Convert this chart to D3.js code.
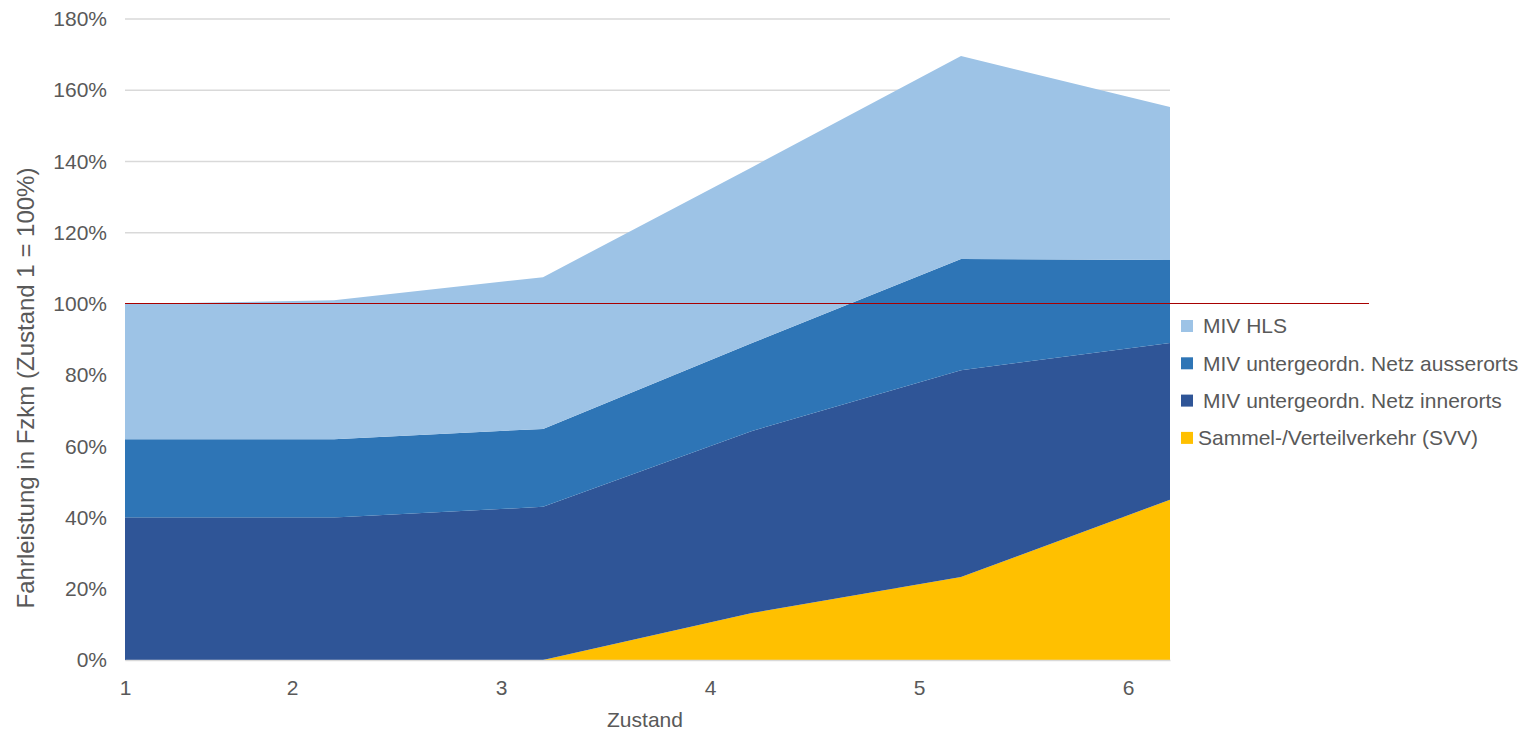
<!DOCTYPE html>
<html lang="de">
<head>
<meta charset="UTF-8">
<title>Fahrleistung</title>
<script src="https://d3js.org/d3.v7.min.js"></script>
<style>
    body{
        margin: 0;
        background: #fff;
        font-family: "Liberation Sans", Arial, sans-serif;
    }
    .axis text{
        fill: #595959;
        font-size: 21px;
    }
</style>
</head>
<body>
<div id="chart"></div>
<script>
    // Zustand 1..6
    const zustand = [1, 2, 3, 4, 5, 6]
    const zustandLabels = ['1', '2', '3', '4', '5', '6']
    // Anteile in % (gestapelt)
    const svv = [0, 0, 0, 13.2, 23.3, 45]
    const innerorts = [40, 40, 43, 51.1, 58.1, 44]
    const ausserorts = [22, 22, 21.9, 24.7, 31.2, 23.3]
    const hls = [38, 39, 42.6, 49.4, 57, 43]
    const yTicks = [0, 20, 40, 60, 80, 100, 120, 140, 160, 180]

    const seriesNames = ['Sammel-/Verteilverkehr (SVV)', 'MIV untergeordn. Netz innerorts', 'MIV untergeordn. Netz ausserorts', 'MIV HLS']
    const colors = ['#FFC000', '#2F5597', '#2E75B6', '#9DC3E6']

    const rows = zustand.map((z, i) => ({
        z: z,
        [seriesNames[0]]: svv[i],
        [seriesNames[1]]: innerorts[i],
        [seriesNames[2]]: ausserorts[i],
        [seriesNames[3]]: hls[i]
    }))

    const W = 1523, H = 731
    const mLeft = 125, mRight = 1170, mTop = 19, mBottom = 660

    const svg = d3.select('#chart').append('svg')
        .attr('width', W)
        .attr('height', H)

    const x = d3.scaleLinear().domain([1, 6]).range([mLeft, mRight])
    const y = d3.scaleLinear().domain([0, 180]).range([mBottom, mTop])

    // gridlines
    svg.append('g')
        .selectAll('line')
        .data(yTicks)
        .enter()
        .append('line')
        .attr('x1', mLeft)
        .attr('x2', mRight)
        .attr('y1', d => y(d))
        .attr('y2', d => y(d))
        .attr('stroke', '#d9d9d9')
        .attr('stroke-width', 1.5)

    const stack = d3.stack().keys(seriesNames)
    const layers = stack(rows)

    const area = d3.area()
        .x(d => x(d.data.z))
        .y0(d => y(d[0]))
        .y1(d => y(d[1]))

    svg.append('g')
        .selectAll('path')
        .data(layers)
        .enter()
        .append('path')
        .attr('d', area)
        .attr('fill', (d, i) => colors[i])

    // y axis
    const yAxis = d3.axisLeft(y).tickValues(yTicks).tickFormat(d => d + '%').tickSize(0).tickPadding(18)
    svg.append('g')
        .attr('class', 'axis')
        .attr('transform', `translate(${mLeft}, 0)`)
        .call(yAxis)
        .call(g => g.select('.domain').remove())

    // x axis (labels sit a bit left of the points, like in the original)
    const xAxis = d3.axisBottom(x)
        .tickValues(zustand.map(z => Math.max(1, z - 0.2)))
        .tickFormat((d, i) => zustandLabels[i])
        .tickSize(0)
        .tickPadding(20)
    svg.append('g')
        .attr('class', 'axis')
        .attr('transform', `translate(0, ${mBottom})`)
        .call(xAxis)
        .call(g => g.select('.domain').attr('stroke', '#d9d9d9').attr('stroke-width', 1.5))

    // 100% Linie
    svg.append('line')
        .attr('x1', mLeft)
        .attr('x2', 1369)
        .attr('y1', y(100))
        .attr('y2', y(100))
        .attr('stroke', '#A80000')
        .attr('stroke-width', 1)
        .attr('shape-rendering', 'crispEdges')

    // axis titles
    svg.append('text')
        .attr('x', 645)
        .attr('y', 727)
        .attr('text-anchor', 'middle')
        .style('font-size', '21px')
        .style('fill', '#595959')
        .text('Zustand')

    svg.append('text')
        .attr('transform', 'translate(34, 388) rotate(-90)')
        .attr('text-anchor', 'middle')
        .style('font-size', '24px')
        .style('fill', '#595959')
        .text('Fahrleistung in Fzkm  (Zustand 1 = 100%)')

    // legend
    const legendOrder = [3, 2, 1, 0]
    const legend = svg.append('g')
        .selectAll('g')
        .data(legendOrder)
        .enter()
        .append('g')
        .attr('transform', (d, i) => `translate(1181, ${326 + i * 37.3})`)

    legend.append('rect')
        .attr('x', 0)
        .attr('y', -6)
        .attr('width', 12)
        .attr('height', 12)
        .attr('fill', d => colors[d])

    legend.append('text')
        .attr('x', d => d === 0 ? 17 : 22)
        .attr('dy', '0.35em')
        .style('font-size', '21px')
        .style('fill', '#595959')
        .text(d => seriesNames[d])
</script>
</body>
</html>
